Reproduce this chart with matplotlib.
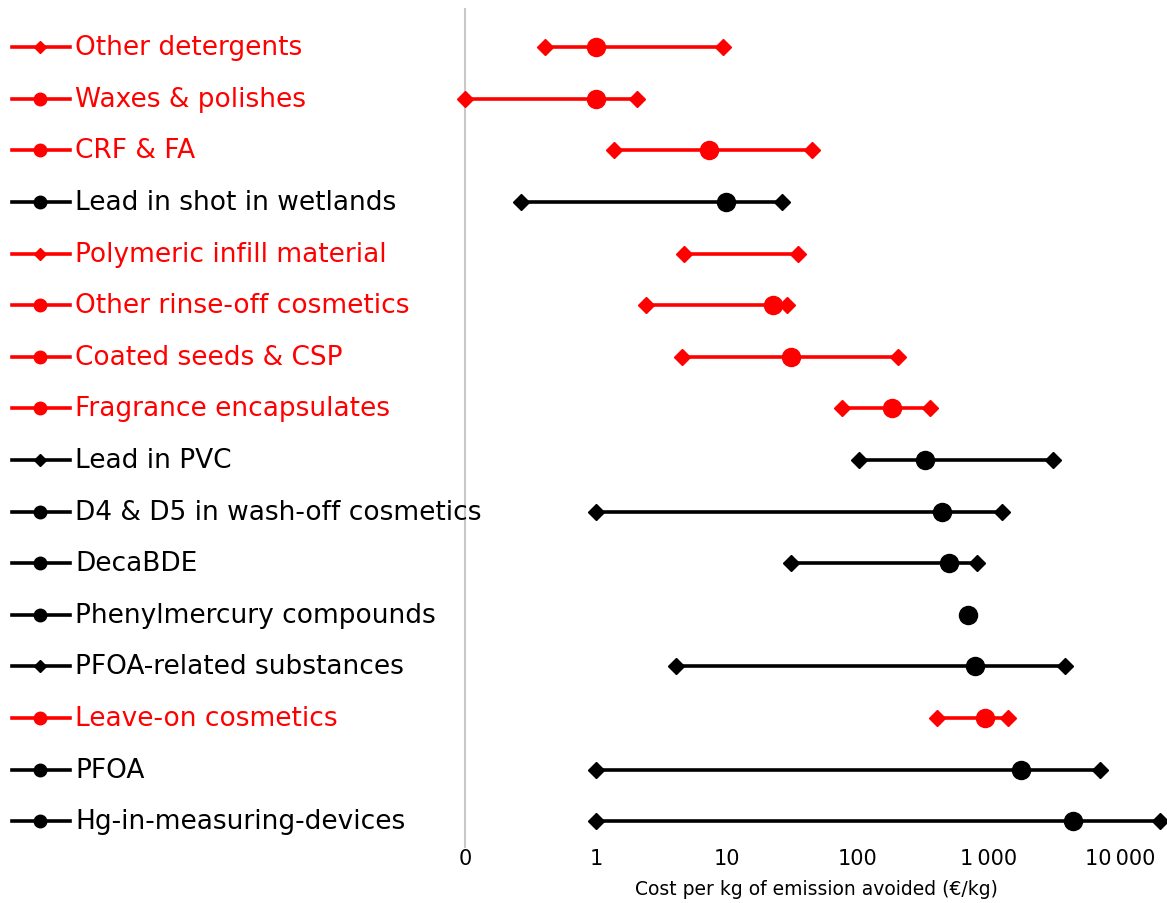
import matplotlib
matplotlib.use("Agg")
import matplotlib.pyplot as plt
from matplotlib.lines import Line2D
from matplotlib.transforms import blended_transform_factory
import numpy as np

# rows top to bottom
labels = ["Other detergents", "Waxes & polishes", "CRF & FA", "Lead in shot in wetlands",
          "Polymeric infill material", "Other rinse-off cosmetics", "Coated seeds & CSP",
          "Fragrance encapsulates", "Lead in PVC", "D4 & D5 in wash-off cosmetics", "DecaBDE",
          "Phenylmercury compounds", "PFOA-related substances", "Leave-on cosmetics", "PFOA",
          "Hg-in-measuring-devices"]
low  = [0.41, 0.1, 1.37, 0.27, 4.7, 2.4, 4.5, 75, 102, 1.0, 31, None, 4.1, 400, 1.0, 1.0]
mid  = [1.0, 1.0, 7.3, 9.8, None, 22.5, 31, 182, 325, 440, 495, 690, 780, 930, 1750, 4400]
high = [9.3, 2.06, 44.6, 26.3, 34.8, 28.7, 202, 355, 3080, 1260, 810, None, 3800, 1400, 7000, 20200]
microplastic = [True, True, True, False, True, True, True, True, False, False, False, False,
                False, True, False, False]
legend_marker = ["D", "o", "o", "o", "D", "o", "o", "o", "D", "o", "o", "o", "D", "o", "o", "o"]

ticks = [0.1, 1, 10, 100, 1000, 10000]
tick_labels = ["0", "1", "10", "100", "1\u2009000", "10\u2009000"]

fig = plt.figure(figsize=(11.67, 9.04), dpi=100)
ax = fig.add_axes([465 / 1167, 0.062, 702 / 1167, 0.927])
ax.set_xscale("log")
ax.set_xlim(0.1, 22900)
ax.set_ylim(15.5, -0.74)

tr = blended_transform_factory(fig.transFigure, ax.transData)
for i, lab in enumerate(labels):
    col = "#ff0000" if microplastic[i] else "black"
    lw = 2.6
    pts = [v for v in (low[i], high[i]) if v is not None]
    if len(pts) == 2:
        ax.plot(pts, [i, i], color=col, lw=lw, solid_capstyle="butt", zorder=2)
        ax.plot(pts, [i, i], "D", color=col, ms=8.5, lw=0, zorder=3, clip_on=False)
    if mid[i] is not None:
        ax.plot([mid[i]], [i], "o", color=col, ms=13, zorder=4, clip_on=False)
    # legend-like label
    ms = 6.5 if legend_marker[i] == "D" else 9
    fig.add_artist(Line2D([12 / 1167, 70 / 1167], [i, i], transform=tr, color=col, lw=2.6))
    fig.add_artist(Line2D([40 / 1167], [i], transform=tr, color=col, marker=legend_marker[i],
                          ms=ms, lw=0))
    fig.text(75 / 1167, i, lab, transform=tr, color=col, fontsize=19, va="center", ha="left",
             zorder=5)

for s in ["top", "right", "bottom"]:
    ax.spines[s].set_visible(False)
ax.spines["left"].set_color("#c8c8c8")
ax.spines["left"].set_linewidth(1.5)
ax.set_yticks([])
ax.set_xticks(ticks)
ax.set_xticklabels(tick_labels, fontsize=15)
ax.minorticks_off()
ax.tick_params(axis="x", length=0, pad=1)
ax.set_xlabel("Cost per kg of emission avoided (\u20ac/kg)", fontsize=13.5, labelpad=8)

fig.savefig("out.png", dpi=100)
